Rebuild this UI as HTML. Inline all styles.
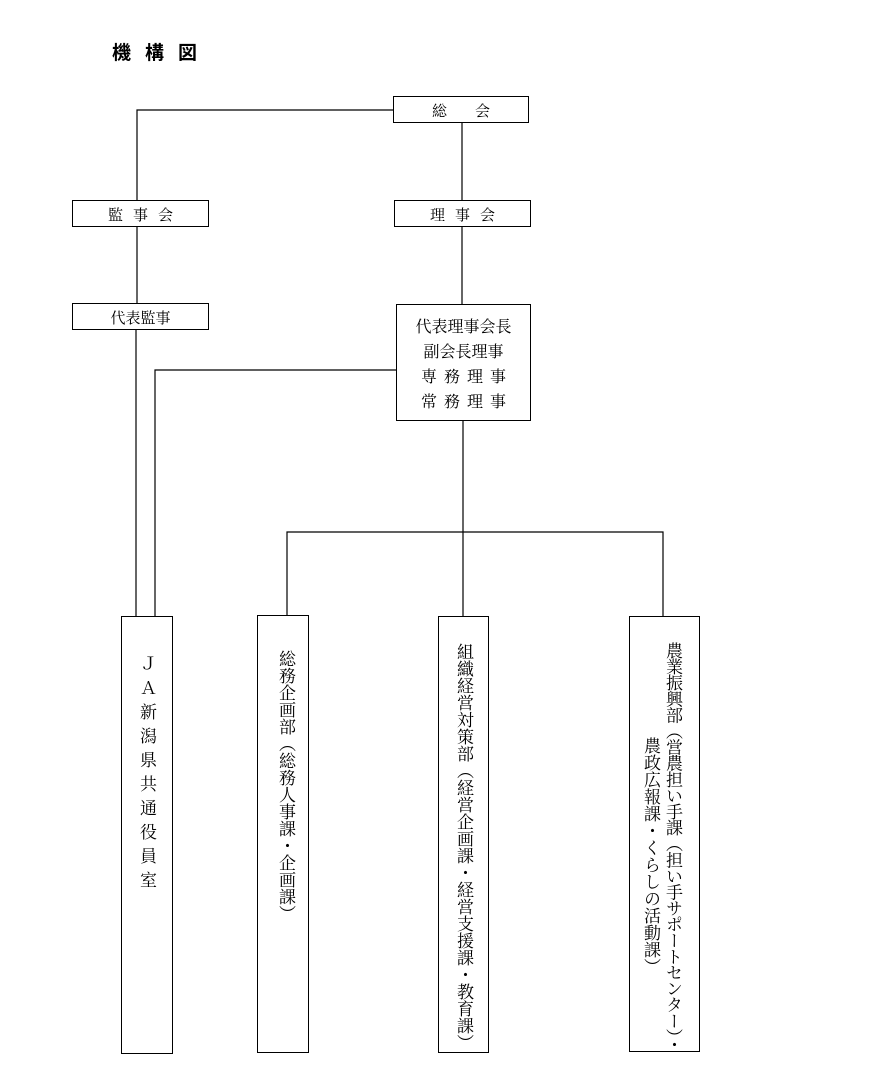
<!DOCTYPE html>
<html><head><meta charset="utf-8"><style>
body{margin:0;width:883px;height:1089px;background:#fff;position:relative;overflow:hidden;font-family:"Liberation Serif","Noto Serif CJK SC",serif;color:#000}
.b{position:absolute;border:1px solid #000;box-sizing:border-box;background:#fff}
.t{position:absolute;font-size:15px;white-space:nowrap}
.v{position:absolute;writing-mode:vertical-rl;font-size:17px;line-height:20px;white-space:nowrap;letter-spacing:0px}
</style></head><body>
<svg width="883" height="1089" style="position:absolute;left:0;top:0" stroke="#000" stroke-width="1.2" fill="none">
<path d="M393 110H137V200M137 226V304M136 329V616"/>
<path d="M396 370H155V616"/>
<path d="M462 122V200M462 226V304M463 420V616"/>
<path d="M287 616V532H663V616"/>
</svg>
<div class="t" style="left:112px;top:38px;font-family:'Liberation Sans','Noto Sans CJK JP',sans-serif;font-weight:bold;font-size:19px;letter-spacing:14px">機構図</div>
<div class="b" style="left:393px;top:96px;width:136px;height:27px"></div>
<div class="t" style="left:393px;top:100px;width:136px;text-align:center;letter-spacing:28px;text-indent:28px">総会</div>
<div class="b" style="left:72px;top:200px;width:137px;height:27px"></div>
<div class="t" style="left:72px;top:204px;width:137px;text-align:center;letter-spacing:10px;text-indent:10px">監事会</div>
<div class="b" style="left:394px;top:200px;width:137px;height:27px"></div>
<div class="t" style="left:394px;top:204px;width:137px;text-align:center;letter-spacing:10px;text-indent:10px">理事会</div>
<div class="b" style="left:72px;top:303px;width:137px;height:27px"></div>
<div class="t" style="left:72px;top:307px;width:137px;text-align:center">代表監事</div>
<div class="b" style="left:396px;top:304px;width:135px;height:117px"></div>
<div class="t" style="left:396px;top:315px;width:135px;text-align:center;line-height:25px;font-size:16px">代表理事会長<br>副会長理事<br><span style="letter-spacing:7px;margin-left:7px">専務理事</span><br><span style="letter-spacing:7px;margin-left:7px">常務理事</span></div>
<div class="b" style="left:121px;top:616px;width:52px;height:438px"></div>
<div class="v" style="left:136px;top:655px;letter-spacing:7px;font-size:17px;line-height:20px">ＪＡ新潟県共通役員室</div>
<div class="b" style="left:257px;top:615px;width:52px;height:438px"></div>
<div class="v" style="left:275px;top:650px">総務企画部（総務人事課・企画課）</div>
<div class="b" style="left:438px;top:616px;width:51px;height:437px"></div>
<div class="v" style="left:453px;top:643px">組織経営対策部（経営企画課・経営支援課・教育課）</div>
<div class="b" style="left:629px;top:616px;width:71px;height:436px"></div>
<div class="v" style="left:662px;top:642px;letter-spacing:-0.9px">農業振興部（営農担い手課（担い手サポートセンター）・</div>
<div class="v" style="left:640px;top:737px">農政広報課・くらしの活動課）</div>
</body></html>
